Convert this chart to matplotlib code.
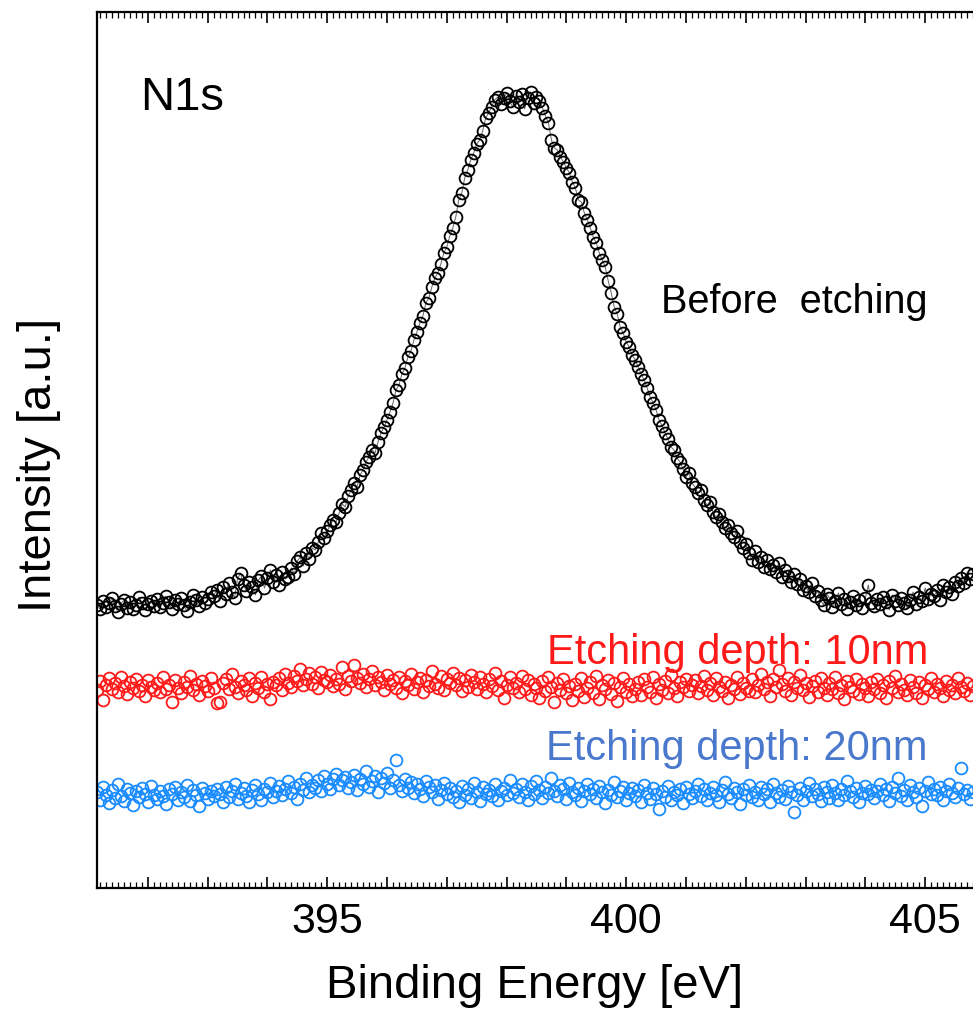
import matplotlib.pyplot as plt
from matplotlib.ticker import MultipleLocator, FuncFormatter

plt.rcParams['font.family'] = ['Liberation Sans', 'DejaVu Sans']

# binding energy grid: first point and step (eV)
e_start = 391.15
e_step = 0.05

before = [
    283, 279, 287, 281, 285, 290, 282, 276, 284, 288, 280, 286, 279, 283, 291, 285, 278, 284, 287, 282,
    289, 281, 285, 292, 286, 279, 288, 284, 290, 283, 277, 286, 293, 288, 282, 291, 285, 289, 296, 292,
    298, 287, 301, 294, 305, 296, 290, 309, 315, 303, 297, 306, 301, 293, 308, 312, 300, 310, 318, 306,
    313, 303, 316, 309, 311, 320, 314, 327, 331, 322, 335, 329, 340, 338, 346, 355, 350, 357, 363, 368,
    366, 375, 384, 381, 392, 398, 405, 401, 413, 418, 426, 431, 438, 435, 446, 455, 461, 468, 476, 485,
    498, 503, 514, 520, 531, 537, 548, 556, 565, 572, 585, 590, 601, 610, 615, 624, 635, 641, 652, 660,
    671, 688, 695, 710, 718, 728, 735, 744, 748, 757, 770, 775, 781, 788, 791, 784, 790, 795, 787, 781,
    792, 786, 794, 779, 790, 796, 785, 791, 787, 780, 772, 765, 748, 740, 738, 731, 726, 720, 715, 706,
    700, 688, 686, 675, 668, 660, 651, 645, 635, 628, 621, 607, 595, 581, 574, 561, 555, 546, 541, 533,
    528, 521, 514, 508, 500, 491, 485, 478, 468, 462, 455, 449, 441, 438, 430, 426, 419, 411, 415, 405,
    401, 395, 398, 388, 383, 386, 376, 371, 374, 366, 360, 363, 355, 351, 357, 346, 340, 344, 335, 328,
    337, 326, 331, 321, 328, 319, 323, 316, 325, 311, 318, 312, 306, 314, 304, 309, 298, 302, 296, 305,
    292, 297, 288, 283, 294, 290, 281, 287, 295, 284, 289, 279, 286, 292, 283, 288, 280, 290, 303, 285,
    282, 289, 284, 291, 286, 278, 293, 287, 283, 290, 285, 280, 288, 296, 284, 291, 287, 300, 289, 294,
    292, 298, 288, 303, 296, 301, 294, 306, 302, 310, 305, 315, 309, 314,
]

depth10 = [
    198, 207, 188, 203, 210, 199, 205, 196, 211, 202, 194, 206, 200, 209, 197, 203, 192, 208, 201, 198,
    205, 196, 211, 199, 203, 186, 208, 200, 195, 206, 201, 212, 198, 204, 193, 207, 202, 197, 210, 200,
    185, 186, 205, 209, 199, 214, 201, 195, 207, 203, 198, 210, 192, 205, 200, 211, 196, 204, 189, 206,
    203, 210, 198, 214, 205, 201, 212, 207, 219, 203, 209, 215, 204, 211, 200, 216, 208, 206, 213, 202,
    209, 204, 221, 199, 212, 207, 223, 210, 205, 214, 201, 209, 217, 203, 211, 206, 198, 213, 204, 208,
    200, 211, 195, 207, 203, 214, 199, 206, 210, 196, 208, 202, 217, 204, 200, 212, 198, 209, 205, 215,
    203, 210, 197, 208, 201, 213, 206, 199, 211, 204, 196, 209, 202, 215, 198, 207, 190, 203, 211, 200,
    205, 196, 212, 199, 208, 193, 204, 200, 190, 207, 197, 211, 201, 186, 205, 198, 209, 195, 202, 188,
    204, 197, 210, 191, 200, 206, 195, 212, 189, 203, 199, 208, 194, 205, 187, 201, 210, 196, 204, 192,
    199, 206, 193, 209, 201, 196, 211, 190, 204, 198, 207, 195, 213, 200, 192, 206, 201, 209, 197, 203,
    208, 195, 202, 212, 198, 205, 193, 210, 201, 197, 206, 190, 203, 199, 211, 194, 205, 200, 197, 209,
    196, 203, 214, 199, 206, 192, 209, 201, 218, 204, 197, 210, 193, 206, 200, 213, 198, 205, 191, 202,
    207, 196, 210, 200, 193, 205, 199, 211, 195, 203, 189, 207, 201, 197, 209, 194, 204, 200, 192, 206,
    199, 209, 195, 203, 190, 207, 200, 212, 196, 204, 198, 193, 208, 201, 195, 206, 190, 203, 199, 210,
    196, 204, 200, 192, 207, 198, 203, 195, 210, 201, 197, 205, 193, 202,
]

depth20 = [
    96, 88, 101, 93, 85, 98, 90, 104, 92, 87, 99, 95, 83, 97, 91, 100, 94, 86, 102, 93,
    89, 97, 92, 84, 99, 94, 101, 88, 96, 91, 103, 87, 98, 93, 82, 100, 95, 89, 97, 92,
    99, 94, 86, 101, 91, 97, 104, 89, 95, 100, 92, 86, 98, 103, 94, 88, 99, 96, 105, 91,
    97, 102, 93, 99, 107, 95, 101, 89, 104, 98, 110, 96, 103, 100, 108, 97, 112, 104, 99, 109,
    114, 103, 108, 111, 100, 106, 113, 98, 109, 104, 117, 101, 107, 112, 96, 110, 105, 115, 100, 108,
    128, 103, 97, 109, 100, 106, 95, 104, 99, 92, 107, 101, 96, 103, 89, 98, 105, 94, 100, 91,
    97, 86, 102, 93, 99, 90, 105, 96, 87, 101, 94, 98, 92, 104, 88, 97, 100, 93, 108, 95,
    99, 91, 104, 96, 88, 102, 94, 107, 98, 90, 101, 95, 110, 97, 92, 103, 99, 89, 105, 96,
    93, 100, 87, 97, 104, 94, 99, 90, 102, 96, 85, 98, 93, 106, 91, 97, 101, 88, 95, 100,
    92, 98, 86, 103, 95, 89, 100, 94, 79, 97, 91, 102, 88, 96, 93, 99, 85, 101, 94, 90,
    97, 104, 92, 99, 88, 95, 101, 93, 86, 98, 106, 94, 90, 100, 96, 84, 99, 93, 103, 91,
    96, 88, 101, 94, 99, 86, 104, 95, 91, 98, 89, 102, 96, 76, 93, 100, 88, 97, 105, 92,
    99, 94, 87, 101, 96, 90, 103, 95, 88, 99, 93, 107, 97, 91, 100, 86, 95, 102, 94, 98,
    90, 97, 104, 93, 99, 87, 101, 95, 110, 92, 98, 88, 103, 96, 91, 100, 82, 97, 106, 94,
    99, 93, 101, 88, 97, 104, 95, 91, 100, 120, 94, 98, 89, 96,
]

energy = [e_start + e_step * i for i in range(len(before))]

fig = plt.figure(figsize=(9.73, 10.14), dpi=100)
ax = fig.add_axes([0.0997, 0.1243, 0.9003, 0.8639])

ax.plot(energy, before, color='#666666', linewidth=0.7, marker='o', markersize=8.5,
        markerfacecolor='none', markeredgecolor='black', markeredgewidth=1.3)
ax.plot(energy, depth10, linestyle='none', marker='o', markersize=8.5,
        markerfacecolor='none', markeredgecolor='#ff1a1a', markeredgewidth=1.3)
ax.plot(energy, depth20, linestyle='none', marker='o', markersize=8.5,
        markerfacecolor='none', markeredgecolor='#1a8cff', markeredgewidth=1.3)

ax.set_xlim(391.15, 405.8)
ax.set_ylim(0, 876)

ax.spines['right'].set_visible(False)
for s in ['left', 'top', 'bottom']:
    ax.spines[s].set_linewidth(1.6)

ax.xaxis.set_major_locator(MultipleLocator(1))
ax.xaxis.set_minor_locator(MultipleLocator(0.1))
ax.xaxis.set_major_formatter(FuncFormatter(lambda v, p: '%d' % round(v) if round(v) % 5 == 0 else ''))
ax.tick_params(axis='x', which='major', direction='in', length=8, width=1.2, top=True,
               labelsize=31, pad=10)
ax.tick_params(axis='x', which='minor', direction='in', length=4, width=0.9, top=True)
ax.set_yticks([])

ax.set_xlabel('Binding Energy [eV]', fontsize=34, labelpad=16)
ax.set_ylabel('Intensity [a.u.]', fontsize=34)
ax.yaxis.set_label_coords(-0.041, 0.483)

ax.text(0.049, 0.888, 'N1s', transform=ax.transAxes, fontsize=34)
ax.text(0.9486, 0.656, 'Before  etching', transform=ax.transAxes, fontsize=28.5, ha='right')
ax.text(0.9486, 0.256, 'Etching depth: 10nm', transform=ax.transAxes, fontsize=30,
        ha='right', color='#ff1a1a')
ax.text(0.9486, 0.146, 'Etching depth: 20nm', transform=ax.transAxes, fontsize=30,
        ha='right', color='#4a78cc')

fig.savefig('out.png', dpi=100)
